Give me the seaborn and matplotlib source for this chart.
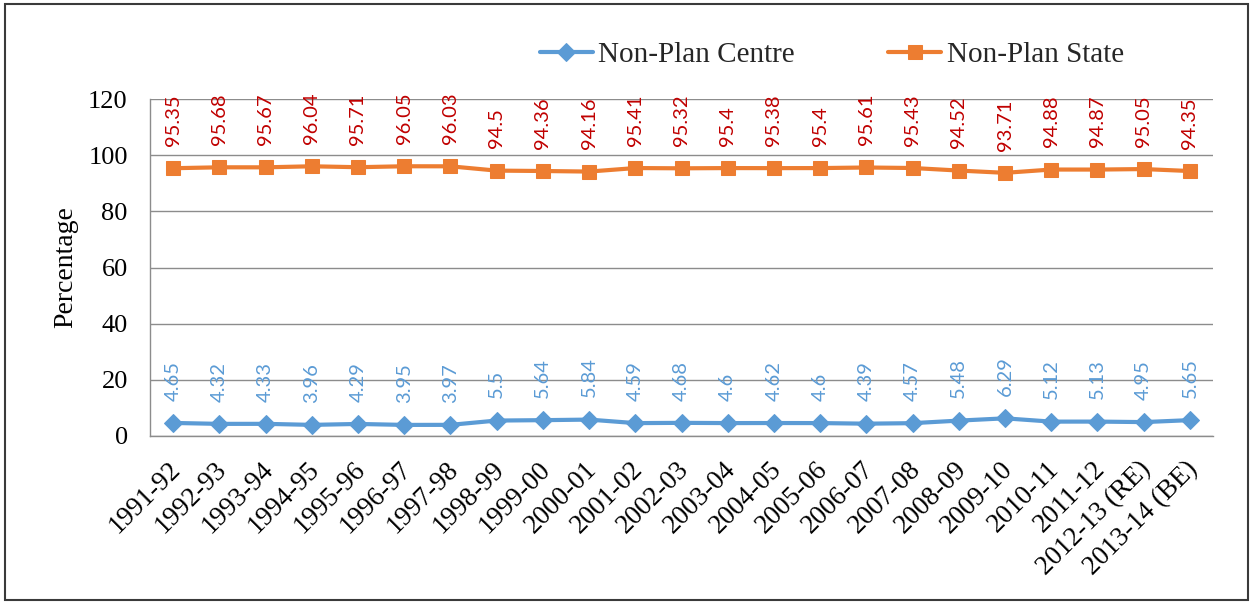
import matplotlib
matplotlib.use("Agg")
import matplotlib.pyplot as plt
import matplotlib.transforms as mtransforms
import seaborn as sns
import pandas as pd
from matplotlib.patches import Rectangle

years = ["1991-92", "1992-93", "1993-94", "1994-95", "1995-96", "1996-97",
         "1997-98", "1998-99", "1999-00", "2000-01", "2001-02", "2002-03",
         "2003-04", "2004-05", "2005-06", "2006-07", "2007-08", "2008-09",
         "2009-10", "2010-11", "2011-12", "2012-13 (RE)", "2013-14 (BE)"]
centre = [4.65, 4.32, 4.33, 3.96, 4.29, 3.95, 3.97, 5.5, 5.64, 5.84, 4.59, 4.68,
          4.6, 4.62, 4.6, 4.39, 4.57, 5.48, 6.29, 5.12, 5.13, 4.95, 5.65]
state = [95.35, 95.68, 95.67, 96.04, 95.71, 96.05, 96.03, 94.5, 94.36, 94.16,
         95.41, 95.32, 95.4, 95.38, 95.4, 95.61, 95.43, 94.52, 93.71, 94.88,
         94.87, 95.05, 94.35]
y_ticks = [0, 20, 40, 60, 80, 100, 120]

sns.set_theme(style="white")
serif = ["Liberation Serif", "DejaVu Serif"]
plt.rcParams["font.family"] = serif

df = pd.DataFrame({"Year": years, "Non-Plan Centre": centre, "Non-Plan State": state})
df["pos"] = range(len(years))

fig = plt.figure(figsize=(12.53, 6.02), dpi=100)
ax = fig.add_axes([150 / 1253, 1 - 436 / 602, (1213 - 150) / 1253, (436 - 99) / 602])

blue = "#5B9BD5"
orange = "#ED7D31"
sns.lineplot(data=df, x="pos", y="Non-Plan Centre", ax=ax, color=blue, lw=3,
             marker="D", markersize=9, markeredgecolor=blue, label="Non-Plan Centre")
sns.lineplot(data=df, x="pos", y="Non-Plan State", ax=ax, color=orange, lw=3,
             marker="s", markersize=10, markeredgecolor=orange, label="Non-Plan State")

label_font = ["Lato", "DejaVu Sans"]
for i, (c, s) in enumerate(zip(centre, state)):
    ax.annotate(f"{s:g}", (i, s), xytext=(0, 16), textcoords="offset points",
                rotation=90, ha="center", va="bottom", color="#C00000",
                fontsize=14.5, family=label_font)
    ax.annotate(f"{c:g}", (i, c), xytext=(0, 16), textcoords="offset points",
                rotation=90, ha="center", va="bottom", color=blue,
                fontsize=14.5, family=label_font)

ax.set_xlim(-0.5, len(years) - 0.5)
ax.set_ylim(0, 120)
ax.set_yticks(y_ticks)
ax.set_yticklabels([str(t) for t in y_ticks], fontsize=19, color="black")
ax.set_xticks(range(len(years)))
ax.set_xticklabels(years, rotation=45, ha="right", rotation_mode="anchor",
                   fontsize=19.5, color="black")
ax.tick_params(axis="y", length=0, pad=16)
ax.tick_params(axis="x", length=0, pad=15)
shift = mtransforms.ScaledTranslation(-5 / 100, 0, fig.dpi_scale_trans)
for lbl in ax.get_xticklabels():
    lbl.set_transform(lbl.get_transform() + shift)
ax.set_xlabel("")
ax.set_ylabel("Percentage", fontsize=20, color="black", labelpad=7)

ax.grid(axis="y", color="#8C8C8C", lw=1)
ax.set_axisbelow(True)
for side in ["top", "right"]:
    ax.spines[side].set_visible(False)
for side in ["left", "bottom"]:
    ax.spines[side].set_color("#8C8C8C")
    ax.spines[side].set_linewidth(1)

ax.legend(loc="center", bbox_to_anchor=(832 / 1253, 1 - 55 / 602),
          bbox_transform=fig.transFigure, ncol=2, frameon=False,
          fontsize=21, handlelength=1.8, handletextpad=0.2, columnspacing=3.2,
          borderaxespad=0)

fig.patches.append(Rectangle((0.004, 0.004), 0.992, 0.989, transform=fig.transFigure,
                             fill=False, edgecolor="#3A3A3A", lw=1.5))

fig.savefig("out.png", dpi=100)
